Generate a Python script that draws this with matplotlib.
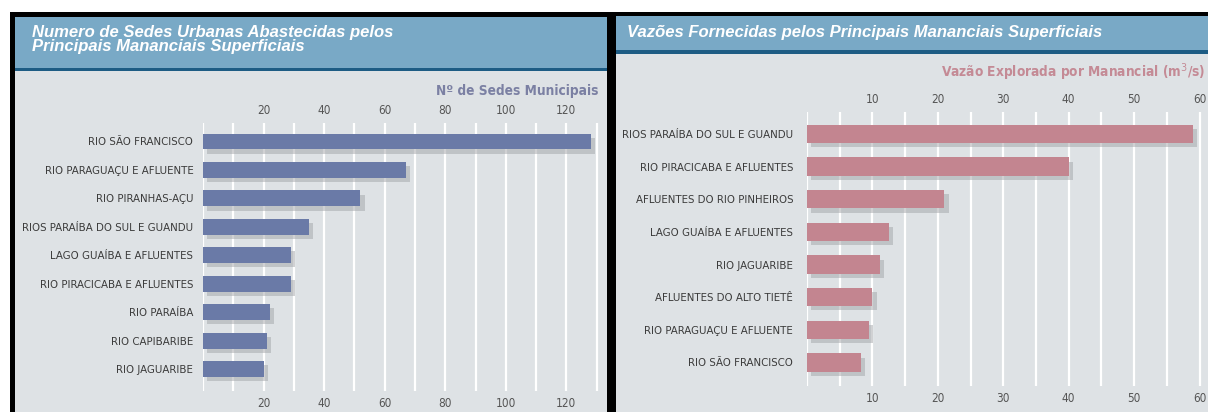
import matplotlib
matplotlib.use('Agg')
import matplotlib.pyplot as plt
import matplotlib.patheffects as pe
from matplotlib.patches import Rectangle

# Sedes urbanas abastecidas por manancial
sedes_rios = ['RIO SÃO FRANCISCO', 'RIO PARAGUAÇU E AFLUENTE', 'RIO PIRANHAS-AÇU',
              'RIOS PARAÍBA DO SUL E GUANDU', 'LAGO GUAÍBA E AFLUENTES',
              'RIO PIRACICABA E AFLUENTES', 'RIO PARAÍBA', 'RIO CAPIBARIBE', 'RIO JAGUARIBE']
sedes_valores = [128, 67, 52, 35, 29, 29, 22, 21, 20]
sedes_ticks = [20, 40, 60, 80, 100, 120]

# Vazao explorada por manancial (m3/s)
vazao_rios = ['RIOS PARAÍBA DO SUL E GUANDU', 'RIO PIRACICABA E AFLUENTES',
              'AFLUENTES DO RIO PINHEIROS', 'LAGO GUAÍBA E AFLUENTES', 'RIO JAGUARIBE',
              'AFLUENTES DO ALTO TIETÊ', 'RIO PARAGUAÇU E AFLUENTE', 'RIO SÃO FRANCISCO']
vazao_valores = [59, 40, 21, 12.5, 11.2, 10, 9.4, 8.2]
vazao_ticks = [10, 20, 30, 40, 50, 60]

W, H = 1208, 412
plt.rcParams['font.family'] = ['Liberation Sans', 'DejaVu Sans']
cond = dict(family='DejaVu Sans', stretch='condensed')

fig = plt.figure(figsize=(W / 100, H / 100), dpi=100)
fig.patch.set_facecolor('white')


def box(x0, y0, x1, y1, color):
    # rectangle given in pixels, origin at the top left
    fig.patches.append(Rectangle((x0 / W, 1 - y1 / H), (x1 - x0) / W, (y1 - y0) / H,
                                 transform=fig.transFigure, facecolor=color,
                                 edgecolor='none', zorder=-5))


def axes_px(x0, y0, x1, y1):
    return fig.add_axes([x0 / W, 1 - y1 / H, (x1 - x0) / W, (y1 - y0) / H])


header = '#79a9c6'
rule = '#1d5c84'
panel = '#dee2e5'

box(10, 12, W, H, 'black')
box(15, 17, 607, H, panel)
box(15, 17, 607, 68, header)
box(15, 68, 607, 71, rule)
box(616, 16, W, H, panel)
box(616, 16, W, 50, header)
box(616, 50, W, 54, rule)

fig.text(32 / W, 1 - 32 / H, 'Numero de Sedes Urbanas Abastecidas pelos',
         color='white', fontsize=12, fontweight='bold', style='italic', va='center')
fig.text(32 / W, 1 - 46 / H, 'Principais Mananciais Superficiais',
         color='white', fontsize=12, fontweight='bold', style='italic', va='center')
fig.text(627 / W, 1 - 33 / H, 'Vazões Fornecidas pelos Principais Mananciais Superficiais',
         color='white', fontsize=12, fontweight='bold', style='italic', va='center')


def draw(ax, nomes, valores, ticks, passo, xmax, cor, pad):
    y = list(range(len(nomes)))
    bars = ax.barh(y, valores, height=0.56, color=cor, zorder=3)
    for b in bars:
        b.set_path_effects([pe.SimplePatchShadow(offset=(3, -3), shadow_rgbFace='#a2a5a8',
                                                 alpha=0.5),
                            pe.Normal()])
    ax.set_facecolor('none')
    ax.set_xlim(0, xmax)
    ax.set_xticks(ticks)
    ax.set_xticks([passo * i for i in range(int(xmax // passo) + 1)], minor=True)
    ax.grid(True, which='both', axis='x', color='white', linewidth=1.6, zorder=1)
    ax.set_axisbelow(True)
    ax.set_yticks(y)
    ax.set_yticklabels(nomes, fontsize=8.2, color='#3a3a3a', **cond)
    ax.tick_params(axis='x', which='both', length=0, labeltop=True, labelbottom=True,
                   labelsize=8.5, labelcolor='#555555', pad=4)
    for lbl in ax.get_xticklabels():
        lbl.set_family('DejaVu Sans')
        lbl.set_stretch('condensed')
    ax.tick_params(axis='y', length=0, pad=pad)
    for s in ax.spines.values():
        s.set_visible(False)


ax1 = axes_px(203, 123, 604, 391)
draw(ax1, sedes_rios, sedes_valores, sedes_ticks, 10, (604 - 203) / 3.028, '#6a7aa7', 7)
ax1.set_ylim(8.77, -0.65)
fig.text(598 / W, 1 - 91 / H, 'Nº de Sedes Municipais', ha='right', va='center',
         color='#7b80a3', fontsize=9.8, fontweight='bold', **cond)

ax2 = axes_px(807, 112, W, 386)
draw(ax2, vazao_rios, vazao_valores, vazao_ticks, 5, (W - 807) / 6.543, '#c38590', 10)
ax2.set_ylim(7.72, -0.67)
fig.text(1205 / W, 1 - 72 / H, 'Vazão Explorada por Manancial (m$^3$/s)', ha='right',
         va='center', color='#c48a95', fontsize=9.8, fontweight='bold', **cond)

fig.savefig('out.png', dpi=100)
